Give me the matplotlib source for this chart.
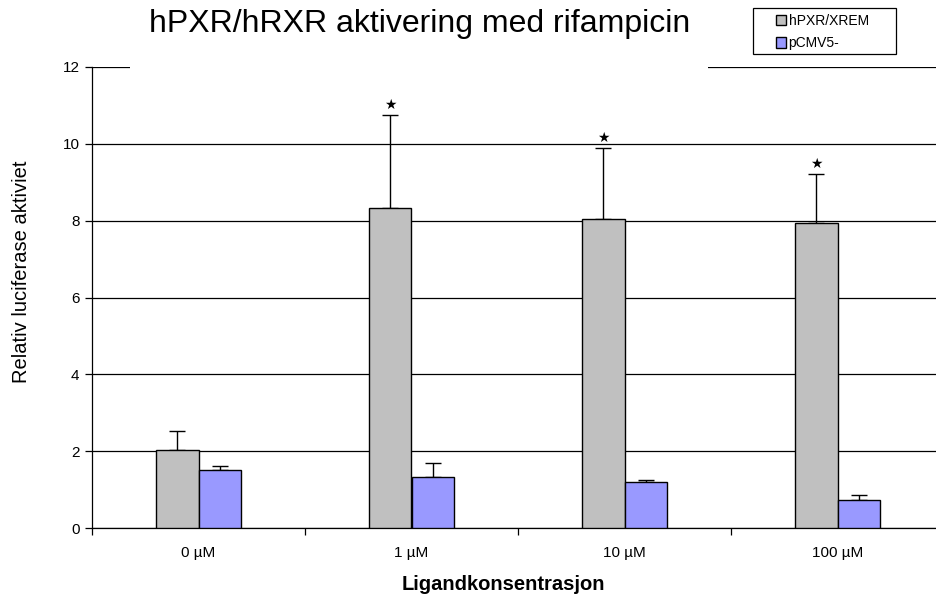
import matplotlib
matplotlib.use("Agg")
import matplotlib.pyplot as plt
from matplotlib.patches import Patch, Rectangle
import numpy as np

plt.rcParams['font.family'] = ['Liberation Sans', 'DejaVu Sans']

categories = ["0 µM", "1 µM", "10 µM", "100 µM"]
series_names = ["hPXR/XREM", "pCMV5-"]
hpxr = [2.03, 8.33, 8.05, 7.93]
hpxr_err = [0.50, 2.42, 1.85, 1.29]
pcmv = [1.52, 1.33, 1.20, 0.73]
pcmv_err = [0.10, 0.37, 0.05, 0.14]
significant = [False, True, True, True]
y_ticks = [0, 2, 4, 6, 8, 10, 12]

W, H = 936, 599
fig = plt.figure(figsize=(W / 100, H / 100), dpi=100)
# plot area runs slightly past the right edge of the canvas
ax = fig.add_axes([92 / W, 1 - 528 / H, (944 - 92) / W, (528 - 67) / H])

x = np.arange(len(categories))
bw = 0.2
gray = "#C0C0C0"
blue = "#9999FF"

ax.bar(x - bw / 2, hpxr, bw, color=gray, edgecolor="black", linewidth=1, zorder=3)
ax.bar(x + bw / 2, pcmv, bw, color=blue, edgecolor="black", linewidth=1, zorder=3)
ax.errorbar(x - bw / 2, hpxr, yerr=[np.zeros(len(hpxr)), hpxr_err], fmt="none",
            ecolor="black", elinewidth=1, capsize=6, capthick=1, zorder=2)
ax.errorbar(x + bw / 2, pcmv, yerr=[np.zeros(len(pcmv)), pcmv_err], fmt="none",
            ecolor="black", elinewidth=1, capsize=6, capthick=1, zorder=2)

for i, sig in enumerate(significant):
    if sig:
        ax.text(x[i] - bw / 2, hpxr[i] + hpxr_err[i] + 0.25, "★", ha="center",
                va="center", fontsize=10, family=["DejaVu Sans"], zorder=4)

ax.set_xlim(-0.5, len(categories) - 0.5)
ax.set_ylim(0, 12)
ax.set_yticks(y_ticks)
ax.yaxis.grid(True, color="black", linewidth=0.9, zorder=0)
ax.set_axisbelow(True)
ax.tick_params(axis="y", direction="out", length=5, labelsize=11, width=0.9, pad=4)

# category labels centered, tick marks between categories
ax.set_xticks(x)
ax.set_xticklabels(categories, fontsize=11)
ax.tick_params(axis="x", which="major", length=0, pad=13)
ax.set_xticks(np.arange(-0.5, len(categories)), minor=True)
ax.tick_params(axis="x", which="minor", direction="out", length=5, width=0.9)

for s in ["top", "right"]:
    ax.spines[s].set_visible(False)
ax.spines["left"].set_linewidth(0.9)
ax.spines["bottom"].set_linewidth(0.9)

fig.text(22 / W, 1 - 272 / H, "Relativ luciferase aktiviet", rotation=90,
         ha="center", va="center", fontsize=14.5)
fig.text(503 / W, 1 - 584 / H, "Ligandkonsentrasjon", ha="center", va="center",
         fontsize=14.5, fontweight="bold")

# title area clears the top gridline
fig.patches.append(Rectangle((130 / W, 1 - 75 / H), (708 - 130) / W, 30 / H,
                             transform=fig.transFigure, facecolor="white",
                             edgecolor="none", zorder=5))
fig.text(420 / W, 1 - 24 / H, "hPXR/hRXR aktivering med rifampicin",
         ha="center", va="center", fontsize=23, zorder=6)

# legend frame and entries
fig.patches.append(Rectangle((753 / W, 1 - 54 / H), (896 - 753) / W, (54 - 8) / H,
                             transform=fig.transFigure, facecolor="white",
                             edgecolor="black", linewidth=0.9, zorder=5))
handles = [Patch(facecolor=gray, edgecolor="black"),
           Patch(facecolor=blue, edgecolor="black")]
leg = fig.legend(handles, series_names, loc="upper left",
                 bbox_to_anchor=(776 / W, 1 - 14 / H), fontsize=10,
                 frameon=False, handlelength=0.75, handleheight=0.75,
                 handletextpad=0.15, borderpad=0, labelspacing=0.6,
                 borderaxespad=0)
leg.set_zorder(6)

fig.savefig("out.png", dpi=100)
